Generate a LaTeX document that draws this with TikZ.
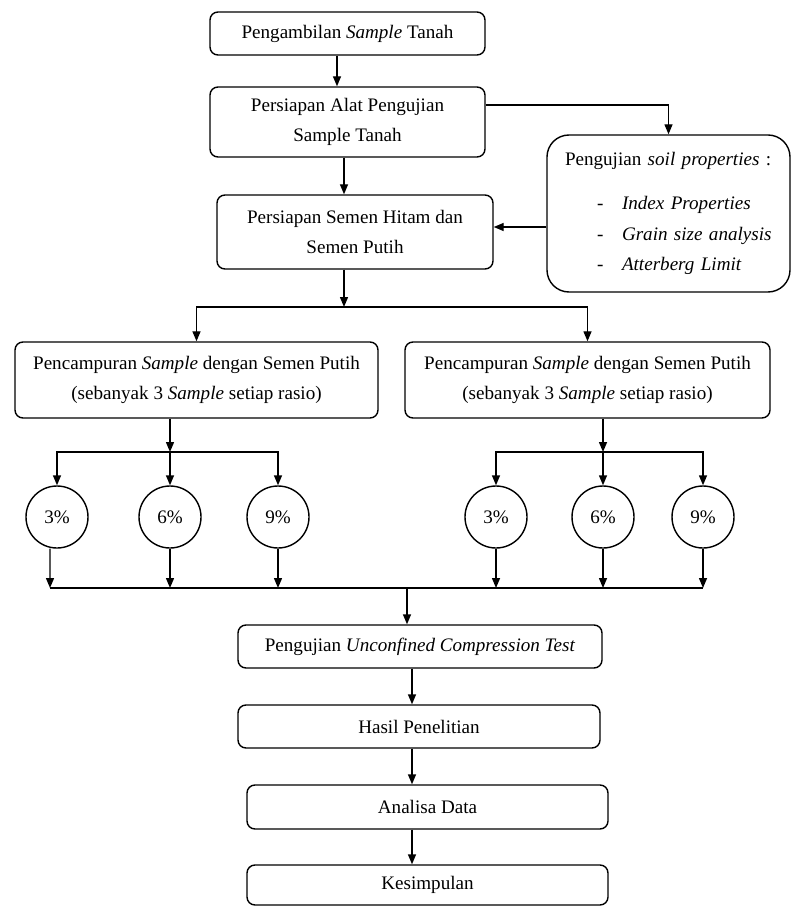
\documentclass[tikz,border=0pt]{standalone}
\usepackage{fontspec}
\setmainfont{Liberation Serif}
\usetikzlibrary{arrows.meta, calc, positioning}

\begin{document}
\begin{tikzpicture}[
  x=0.03cm, y=-0.03cm,
  font=\fontsize{16.3}{26}\selectfont,
  box/.style={rectangle, rounded corners=2.4mm, draw=black, line width=1.2pt, align=center, inner sep=0pt},
  ratio/.style={circle, draw=black, line width=1.2pt, minimum size=1.86cm, inner sep=0pt},
  arr/.style={-{Triangle[length=3mm, width=2.4mm]}, line width=1.2pt},
  link/.style={line width=1.2pt}
]
\useasboundingbox (0,0) rectangle (793,907);

% alur utama atas
\node[box, minimum width=8.25cm, minimum height=1.29cm] (sample) at (347.5,33.5) {Pengambilan \textit{Sample} Tanah};
\node[box, minimum width=8.25cm, minimum height=2.1cm] (alat) at (347.5,122) {Persiapan Alat Pengujian\\Sample Tanah};
\node[box, minimum width=8.28cm, minimum height=2.22cm] (semen) at (355,232) {Persiapan Semen Hitam dan\\Semen Putih};
\node[box, rounded corners=6.6mm, align=left, text width=6.21cm, inner xsep=0.54cm, minimum height=4.71cm] (soil) at (668.5,213.5)
  {Pengujian \textit{soil properties} :\\[12pt]
   \hspace*{0.96cm}\makebox[0.75cm][l]{-}\textit{Index Properties}\\
   \hspace*{0.96cm}\makebox[0.75cm][l]{-}\textit{Grain size analysis}\\
   \hspace*{0.96cm}\makebox[0.75cm][l]{-}\textit{Atterberg Limit}};

\coordinate (colA) at (337,0);
\coordinate (colB) at (344,0);
\draw[arr] (sample.south -| colA) -- (alat.north -| colA);
\draw[arr] (alat.south -| colB) -- (semen.north -| colB);
\draw[arr] ([yshift=0.51cm]alat.east) -| (soil.north);
\draw[arr] ($(soil.west)+(0,13.5)$) -- ($(semen.east)+(0,-5)$);

% pencampuran
\node[box, minimum width=10.89cm, minimum height=2.28cm] (mixL) at (196.5,380) {Pencampuran \textit{Sample} dengan Semen Putih\\(sebanyak 3 \textit{Sample} setiap rasio)};
\node[box, minimum width=10.95cm, minimum height=2.28cm] (mixR) at (587.5,380) {Pencampuran \textit{Sample} dengan Semen Putih\\(sebanyak 3 \textit{Sample} setiap rasio)};

\coordinate (splitA) at (344,307);
\draw[arr] (semen.south -| splitA) -- (splitA);
\draw[arr] (splitA) -| (mixL.north);
\draw[arr] (splitA) -| (mixR.north);

% rasio
\node[ratio] (p3L) at (57,517) {3\%};
\node[ratio] (p6L) at (170,517) {6\%};
\node[ratio] (p9L) at (278,517) {9\%};
\node[ratio] (p3R) at (496,517) {3\%};
\node[ratio] (p6R) at (603,517) {6\%};
\node[ratio] (p9R) at (703,517) {9\%};

\coordinate (splitL) at (170,452);
\coordinate (splitR) at (603,452);
\draw[arr] (mixL.south -| splitL) -- (splitL);
\draw[arr] (mixR.south -| splitR) -- (splitR);
\foreach \p in {p3L,p9L} \draw[arr] (splitL) -| (\p.north);
\foreach \p in {p3R,p9R} \draw[arr] (splitR) -| (\p.north);
\draw[arr] (splitL) -- (p6L.north);
\draw[arr] (splitR) -- (p6R.north);

\coordinate (join) at (407,588);
\coordinate (edge) at (50,0);
\draw[arr] ([xshift=-0.21cm]p3L.south) -- (edge |- join);
\foreach \p in {p6L,p9L,p3R,p6R,p9R} \draw[arr] (\p.south) -- (\p.south |- join);
\draw[link] (edge |- join) -- (p9R.south |- join);

% alur bawah
\node[box, minimum width=10.92cm, minimum height=1.29cm] (uct) at (420,646.5) {Pengujian \textit{Unconfined Compression Test}};
\node[box, minimum width=10.86cm, minimum height=1.29cm] (hasil) at (419,726.5) {Hasil Penelitian};
\node[box, minimum width=10.83cm, minimum height=1.32cm] (analisa) at (427.5,807) {Analisa Data};
\node[box, minimum width=10.83cm, minimum height=1.2cm] (simpul) at (427.5,885) {Kesimpulan};

\coordinate (colC) at (412,0);
\draw[arr] (join) -- (join |- uct.north);
\draw[arr] (uct.south -| colC) -- (hasil.north -| colC);
\draw[arr] (hasil.south -| colC) -- (analisa.north -| colC);
\draw[arr] (analisa.south -| colC) -- (simpul.north -| colC);

\end{tikzpicture}
\end{document}
